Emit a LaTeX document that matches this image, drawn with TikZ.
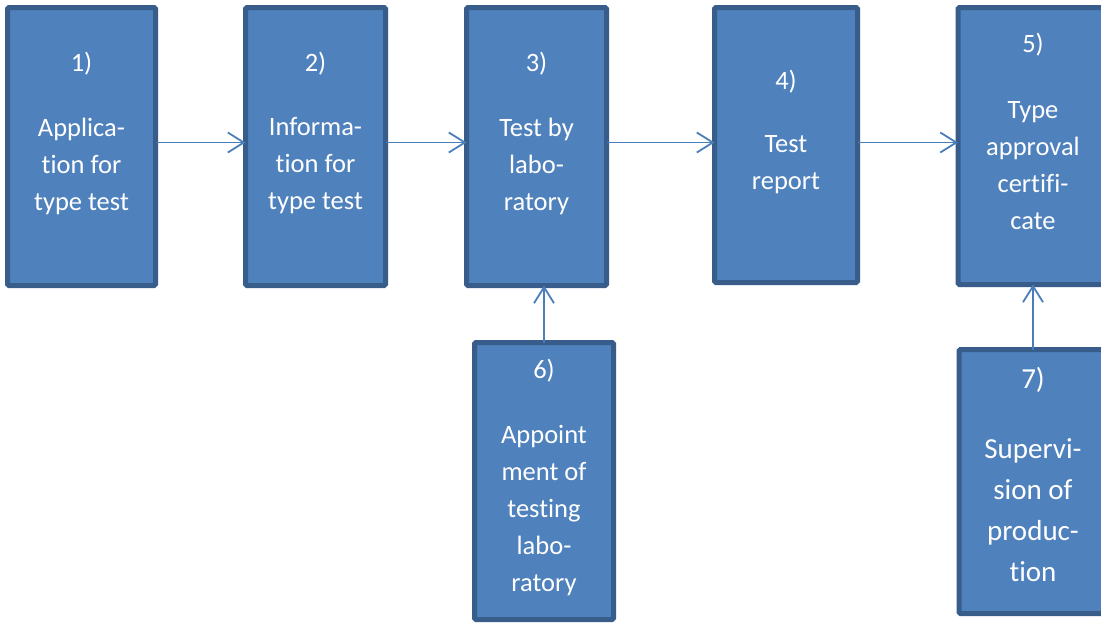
\documentclass[tikz,border=0pt]{standalone}
\usepackage{fontspec}
\setmainfont{Carlito}[RawFeature={-liga;-clig}]
\usetikzlibrary{arrows.meta}
\definecolor{boxfill}{HTML}{4F81BD}
\definecolor{boxline}{HTML}{385D8A}
\definecolor{arrline}{HTML}{4A7EBB}
\tikzset{
  stepbox/.style={draw=boxline, fill=boxfill, line width=5pt, rounded corners=1.5pt,
    inner sep=0pt, outer sep=0pt},
  boxtext/.style={text=white, align=center, inner sep=0pt,
    font=\fontsize{26.5}{37}\selectfont},
  bigtext/.style={text=white, align=center, inner sep=0pt,
    font=\fontsize{29}{41}\selectfont},
  arr/.style={draw=arrline, line width=1.8pt, -{Straight Barb[length=16pt,width=20pt,line width=1.8pt]}},
}
\begin{document}
\begin{tikzpicture}[x=1pt,y=-1pt]
\clip (0,0) rectangle (1101,624);
\fill[white] (0,0) rectangle (1101,624);
% boxes
\node[stepbox, minimum width=148pt, minimum height=278pt] (b1) at (81.5,146.5) {};
\node[stepbox, minimum width=140pt, minimum height=278pt] (b2) at (315.5,146.5) {};
\node[stepbox, minimum width=140pt, minimum height=278pt] (b3) at (536.5,146.5) {};
\node[stepbox, minimum width=143pt, minimum height=275pt] (b4) at (786,145) {};
\node[stepbox, minimum width=150pt, minimum height=277pt] (b5) at (1033,146) {};
\node[stepbox, minimum width=139pt, minimum height=277pt] (b6) at (544,481) {};
\node[stepbox, minimum width=148pt, minimum height=264pt] (b7) at (1033,481.5) {};
% texts
\node[boxtext] (n1) at (81.5,64) {1)};
\node[boxtext] (t1) at (81.5,166) {Applica-\\tion for\\type test};
\node[boxtext] (n2) at (315.5,64) {2)};
\node[boxtext] (t2) at (315.5,166) {Informa-\\tion for\\type test};
\node[boxtext] (n3) at (536.5,64) {3)};
\node[boxtext] (t3) at (536.5,166) {Test by\\labo-\\ratory};
\node[boxtext] (n4) at (786,82) {4)};
\node[boxtext] (t4) at (786,164.5) {Test\\report};
\node[boxtext] (n5) at (1033,45) {5)};
\node[boxtext] (t5) at (1033,165.5) {Type\\approval\\certifi-\\cate};
\node[boxtext] (n6) at (544,371) {6)};
\node[boxtext] (t6) at (544,511) {Appoint\\ment of\\testing\\labo-\\ratory};
\node[bigtext] (n7) at (1033,380) {7)};
\node[bigtext] (t7) at (1033,510) {Supervi-\\sion of\\produc-\\tion};
% connectors
\coordinate (row) at (0,142.5);
\draw[arr] (b1.east |- row) -- (b2.west |- row);
\draw[arr] (b2.east |- row) -- (b3.west |- row);
\draw[arr] (b3.east |- row) -- (b4.west |- row);
\draw[arr] (b4.east |- row) -- (b5.west |- row);
\draw[arr] (b6.north) -- (b6.north |- b3.south);
\draw[arr] (b7.north) -- (b7.north |- b5.south);
\end{tikzpicture}
\end{document}
